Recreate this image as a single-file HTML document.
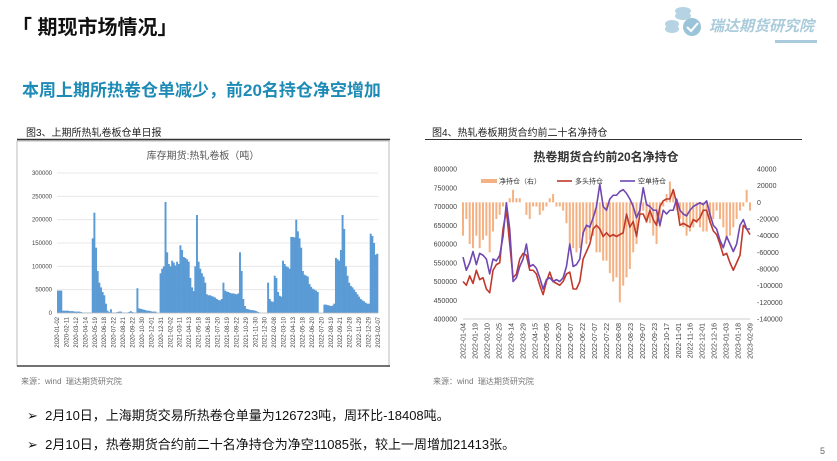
<!DOCTYPE html>
<html><head><meta charset="utf-8">
<style>
body{margin:0;background:#fff;}
#page{position:relative;width:837px;height:461px;overflow:hidden;background:#fff;font-family:"Liberation Sans","Noto Sans CJK SC",sans-serif;}
.t{position:absolute;white-space:nowrap;}
</style></head><body>
<div id="page">
<div class="t" style="left:12px;top:11px;font-size:20px;font-weight:bold;color:#111;">「 期现市场情况」</div>
<div class="t" style="left:709px;top:15px;font-size:15px;font-style:italic;font-weight:bold;color:#a9cbdb;">瑞达期货研究院</div>
<div style="position:absolute;left:775px;top:40px;width:42px;height:3px;background:#a9cbdb;"></div>
<svg style="position:absolute;left:662px;top:5px" width="46" height="32">
<ellipse cx="21" cy="6" rx="8" ry="4" fill="#b5d3e2"/><ellipse cx="21" cy="11" rx="8" ry="4" fill="#b5d3e2"/>
<ellipse cx="10" cy="19" rx="7" ry="4" fill="#b5d3e2"/><ellipse cx="10" cy="24" rx="7" ry="4" fill="#b5d3e2"/>
<circle cx="30" cy="22" r="9" fill="#9cc4d8"/><path d="M25 22 l4 4 l7 -8" stroke="#fff" stroke-width="2" fill="none"/></svg>
<div class="t" style="left:22px;top:76px;font-size:17px;font-weight:bold;color:#1d8bb5;">本周上期所热卷仓单减少，前20名持仓净空增加</div>
<div class="t" style="left:26px;top:124px;font-size:10px;color:#222;">图3、上期所热轧卷板仓单日报</div>
<div class="t" style="left:432px;top:124px;font-size:10px;color:#222;">图4、热轧卷板期货合约前二十名净持仓</div>
<div class="t" style="left:21px;top:376px;font-size:8px;color:#777;">来源：wind &nbsp;瑞达期货研究院</div>
<div class="t" style="left:433px;top:376px;font-size:8px;color:#777;">来源：wind &nbsp;瑞达期货研究院</div>
<div class="t" style="left:27px;top:405px;font-size:13px;color:#111;">➢&nbsp; 2月10日，上海期货交易所热卷仓单量为126723吨，周环比-18408吨。</div>
<div class="t" style="left:27px;top:434px;font-size:13px;color:#111;">➢&nbsp; 2月10日，热卷期货合约前二十名净持仓为净空11085张，较上一周增加21413张。</div>
<div class="t" style="left:820px;top:446px;font-size:9px;color:#666;">5</div>
<svg id="ch" style="position:absolute;left:0;top:0" width="837" height="461"></svg>
</div>
<script>
const leftVals=[48,48,48,5,5,5,5,4,4,4,3,3,3,3,2,1,1,1,1,1,1,160,215,140,90,65,55,45,38,20,5,2,8,1,1,1,2,3,3,1,1,1,1,2,4,2,1,1,53,10,9,8,7,6,5,5,4,3,3,3,0,0,85,95,100,238,130,105,100,112,108,102,110,105,145,135,120,118,115,110,75,55,47,100,210,110,95,85,78,65,40,38,38,36,35,33,30,28,27,30,65,48,46,45,43,42,42,41,40,42,130,90,30,15,9,8,7,6,6,5,4,2,1,0,0,0,0,65,30,25,24,80,75,45,37,35,112,105,100,98,95,163,163,162,200,175,160,140,90,82,80,78,62,56,52,50,48,45,0,0,0,18,18,17,16,15,16,20,118,115,112,135,210,180,100,80,65,58,55,50,45,40,35,30,27,25,22,20,20,170,165,150,125,127];
const leftTicks=[0,50000,100000,150000,200000,250000,300000];
const leftDates=["2020-01-02","2020-02-11","2020-03-12","2020-04-14","2020-05-19","2020-06-18","2020-07-22","2020-08-21","2020-09-22","2020-10-30","2020-12-01","2020-12-31","2021-02-02","2021-03-11","2021-04-13","2021-05-18","2021-06-18","2021-07-20","2021-08-19","2021-09-22","2021-10-29","2021-11-30","2021-12-30","2022-02-08","2022-03-10","2022-04-13","2022-05-18","2022-06-20","2022-07-20","2022-08-19","2022-09-21","2022-10-28","2022-11-29","2022-12-29","2023-02-07"];
const longVals=[500,490,515,495,530,505,510,480,470,530,545,550,640,690,600,510,520,560,575,570,530,530,520,490,465,500,525,500,495,490,500,520,525,480,480,500,560,580,600,640,650,640,620,630,620,625,620,625,630,680,645,660,620,680,680,660,690,665,650,700,715,720,720,745,710,650,655,650,645,665,660,670,690,690,660,635,625,600,570,575,550,530,550,570,650,640,625];
const shortVals=[565,530,550,580,545,575,570,560,520,560,555,570,620,710,640,500,510,540,560,600,540,545,535,510,480,505,510,500,505,500,510,540,600,540,545,560,630,650,645,670,700,760,700,690,720,730,730,740,745,735,720,700,670,690,750,705,700,690,690,650,690,680,690,690,720,690,680,675,690,700,705,710,705,715,680,650,640,610,590,620,600,580,600,650,665,640,640];
const netVals=[-40,-20,-50,-55,-40,-55,-45,-40,-60,-35,-20,-15,-5,-5,5,15,5,5,0,-15,-20,-5,-5,-15,-10,-5,5,10,-5,-5,-10,-25,-50,-55,-60,-55,-40,-50,-45,-40,-60,-60,-70,-70,-85,-95,-90,-120,-100,-90,-80,-60,-50,-15,-10,-25,-25,-40,-50,-30,-5,10,25,15,-10,-20,-30,-40,-35,-30,-25,-30,-35,-35,-25,-20,-10,-20,-30,-45,-40,-30,-20,-10,-5,15,-10];
const rightLTicks=[400000,450000,500000,550000,600000,650000,700000,750000,800000];
const rightRTicks=[-140000,-120000,-100000,-80000,-60000,-40000,-20000,0,20000,40000];
const rightDates=["2022-01-04","2022-01-19","2022-02-10","2022-02-25","2022-03-14","2022-03-29","2022-04-15","2022-05-05","2022-05-20","2022-06-07","2022-06-22","2022-07-07","2022-07-22","2022-08-08","2022-08-23","2022-09-07","2022-09-23","2022-10-17","2022-11-01","2022-11-16","2022-12-01","2022-12-16","2023-01-03","2023-01-18","2023-02-09"];

const svg=document.getElementById('ch');const NS='http://www.w3.org/2000/svg';
function mk(tag,attrs,parent){const e=document.createElementNS(NS,tag);for(const k in attrs)e.setAttribute(k,attrs[k]);(parent||svg).appendChild(e);return e;}
function txt(x,y,s,size,color,anchor,rot,weight){const e=mk('text',{x:x,y:y,'font-size':size,fill:color,'text-anchor':anchor||'start','font-family':'Liberation Sans, Noto Sans CJK SC, sans-serif'});if(weight)e.setAttribute('font-weight',weight);if(rot)e.setAttribute('transform','rotate('+rot+' '+x+' '+y+')');e.textContent=s;return e;}

// LEFT CHART
const lf=mk('rect',{x:17,y:141,width:372,height:225,fill:'#fff',stroke:'#bbb','stroke-width':1});

mk('line',{x1:17,y1:139.5,x2:390,y2:139.5,stroke:'#333','stroke-width':1.5});
mk('line',{x1:17,y1:366,x2:390,y2:366,stroke:'#444','stroke-width':1.5});
const lt=txt(203,159,'库存期货:热轧卷板（吨）',10,'#555','middle');

const L={x0:57,x1:378,y0:313,y1:173,max:300000};
const ly=v=>L.y0-v/L.max*(L.y0-L.y1);
leftTicks.forEach(t=>{
 const g=mk('line',{x1:L.x0,y1:ly(t),x2:L.x1,y2:ly(t),stroke:'#e3e3e3','stroke-width':0.8});
 
 const tl=txt(L.x0-5,ly(t)+2,String(t),6,'#444','end');
 
});
const bw=(L.x1-L.x0)/leftVals.length;
leftVals.forEach((v,i)=>{
 const val=v*1000;const h=L.y0-ly(val);
 const b=mk('rect',{x:L.x0+i*bw,y:ly(val),width:bw+0.3,height:h,fill:'#5b9bd5'});
 
});
mk('line',{x1:L.x0,y1:L.y0,x2:L.x1,y2:L.y0,stroke:'#bbb','stroke-width':0.8});
leftDates.forEach((d,i)=>{
 const x=L.x0+i*(L.x1-L.x0)/(leftDates.length-1)+2;
 const tl=txt(x,L.y0+4,d,6,'#444','end',-90);
 
});

// RIGHT CHART
mk('line',{x1:425,y1:139.5,x2:802,y2:139.5,stroke:'#333','stroke-width':1});
const rt=txt(606,161,'热卷期货合约前20名净持仓',12,'#333','middle',0,'bold');

const R={x0:463,x1:750,y0:319,y1:169};
const yL=v=>R.y1+(800000-v)/400000*(R.y0-R.y1);
const yR=v=>R.y1+(40000-v)/180000*(R.y0-R.y1);
const rx=i=>R.x0+i*(R.x1-R.x0)/(longVals.length-1);
rightLTicks.forEach(t=>{
 const tl=txt(R.x0-6,yL(t)+2.5,String(t),7,'#444','end');
 
});
rightRTicks.forEach(t=>{
 const tl=txt(757,yR(t)+2.5,String(t),7,'#444','start');
 
});
netVals.forEach((v,i)=>{
 const val=v*1000;const y0=yR(0),y=yR(val);
 const b=mk('rect',{x:rx(i)-1,y:Math.min(y0,y),width:2,height:Math.abs(y-y0),fill:'#f4b183'});
 
});
function line(vals,color,name){
 const p=mk('polyline',{points:vals.map((v,i)=>rx(i)+','+yL(v*1000)).join(' '),fill:'none',stroke:color,'stroke-width':1.6,'stroke-linejoin':'round'});
 
}
line(longVals,'#c0392b','long-position-line');
line(shortVals,'#7048b0','short-position-line');
mk('line',{x1:R.x0,y1:R.y0,x2:R.x1,y2:R.y0,stroke:'#bbb','stroke-width':0.8});
rightDates.forEach((d,i)=>{
 const x=R.x0+i*(R.x1-R.x0)/(rightDates.length-1)+2.5;
 const tl=txt(x,R.y0+4,d,7,'#444','end',-90);
 
});
// legend
const lg=mk('g',{});
mk('rect',{x:481,y:179,width:16,height:4,fill:'#f4b183'},lg);
txt(499,183.5,'净持仓（右）',7,'#333','start');
mk('line',{x1:557,y1:181,x2:572,y2:181,stroke:'#c0392b','stroke-width':1.6},lg);
txt(575,183.5,'多头持仓',7,'#333','start');
mk('line',{x1:620,y1:181,x2:635,y2:181,stroke:'#7048b0','stroke-width':1.6},lg);
txt(638,183.5,'空单持仓',7,'#333','start');
</script>
</body></html>
